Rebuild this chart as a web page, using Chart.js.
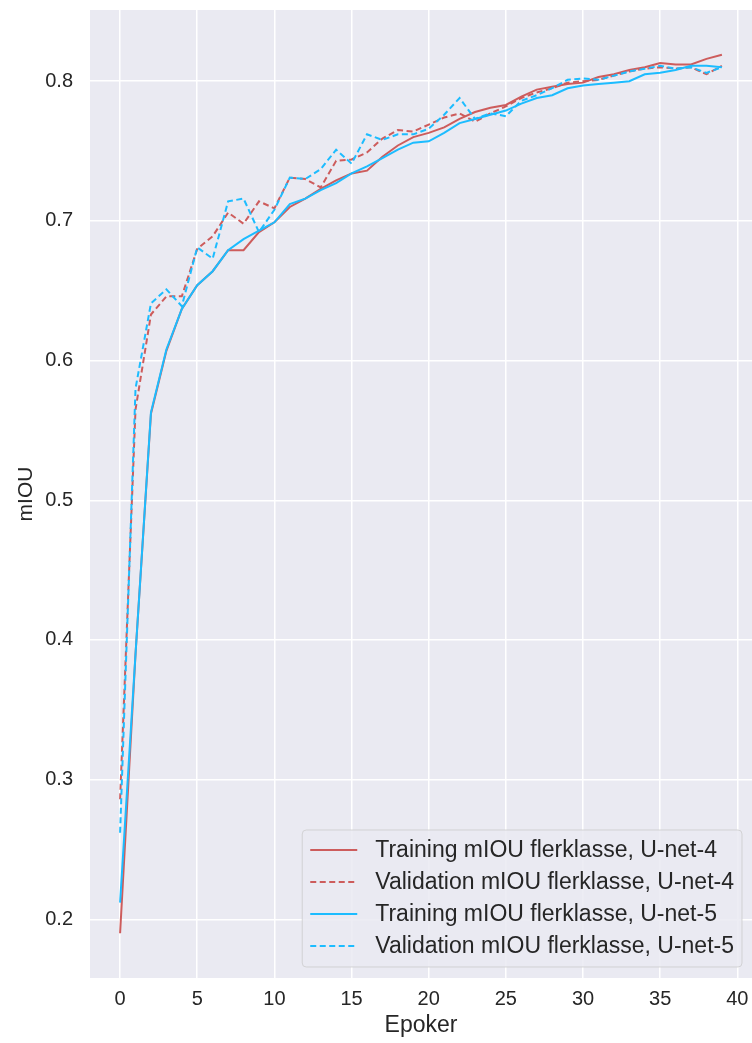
<!DOCTYPE html>
<html>
<head>
<meta charset="utf-8">
<script src="https://cdn.jsdelivr.net/npm/chart.js@4"></script>
<style>
  html, body { margin: 0; padding: 0; background: #fff; }
  #wrap { width: 752px; height: 1043px; }
</style>
</head>
<body>
<div id="wrap"><canvas id="grafMiou"></canvas></div>
<script>
const epoker = [0,1,2,3,4,5,6,7,8,9,10,11,12,13,14,15,16,17,18,19,
                20,21,22,23,24,25,26,27,28,29,30,31,32,33,34,35,36,37,38,39];

const trainU4 = [0.190,0.390,0.562,0.607,0.637,0.654,0.664,0.679,0.679,0.692,
                 0.699,0.710,0.716,0.723,0.729,0.734,0.736,0.746,0.754,0.760,
                 0.763,0.767,0.773,0.778,0.781,0.783,0.789,0.794,0.796,0.798,
                 0.799,0.803,0.805,0.808,0.810,0.813,0.812,0.812,0.816,0.819];
const valU4   = [0.286,0.565,0.633,0.646,0.646,0.680,0.689,0.706,0.698,0.714,
                 0.709,0.731,0.730,0.724,0.743,0.744,0.749,0.759,0.765,0.764,
                 0.769,0.774,0.777,0.771,0.777,0.782,0.788,0.792,0.795,0.799,
                 0.800,0.801,0.804,0.807,0.809,0.810,0.809,0.810,0.805,0.811];
const trainU5 = [0.212,0.390,0.563,0.608,0.637,0.654,0.664,0.679,0.687,0.693,
                 0.699,0.712,0.716,0.722,0.727,0.734,0.739,0.745,0.751,0.756,
                 0.757,0.763,0.770,0.773,0.776,0.779,0.784,0.788,0.790,0.795,
                 0.797,0.798,0.799,0.800,0.805,0.806,0.808,0.811,0.811,0.810];
const valU5   = [0.262,0.580,0.641,0.651,0.639,0.681,0.673,0.714,0.716,0.692,
                 0.708,0.731,0.730,0.737,0.751,0.741,0.762,0.758,0.762,0.762,
                 0.766,0.776,0.788,0.773,0.777,0.775,0.786,0.790,0.795,0.801,
                 0.802,0.801,0.804,0.807,0.809,0.811,0.809,0.810,0.806,0.810];

const xTicks = [0,5,10,15,20,25,30,35,40];
const yTicks = [0.2,0.3,0.4,0.5,0.6,0.7,0.8];

const rod = '#cd5c5c';
const bla = '#1cbcff';
const tekst = '#262626';
const fontFam = '"Liberation Sans", Arial, sans-serif';

const punkter = (arr) => arr.map((v, i) => ({ x: epoker[i], y: v }));

// grey seaborn-like background behind the plot area
const bakgrunn = {
  id: 'bakgrunn',
  beforeDraw(chart) {
    const { ctx, chartArea: a } = chart;
    ctx.save();
    ctx.fillStyle = '#eaeaf2';
    ctx.fillRect(a.left, a.top, a.right - a.left, a.bottom - a.top);
    ctx.restore();
  }
};

// legend inside the plot, lower right
const legende = {
  id: 'legende',
  afterDraw(chart) {
    const { ctx, chartArea: a } = chart;
    const ds = chart.data.datasets;
    ctx.save();
    ctx.font = '23px ' + fontFam;
    let maxW = 0;
    ds.forEach(d => { maxW = Math.max(maxW, ctx.measureText(d.label).width); });
    const rad = 32, linje = 47, gap = 18, pad = 8;
    const w = pad + linje + gap + maxW + pad;
    const h = rad * ds.length + 9;
    const x0 = a.right - 10 - w, y0 = a.bottom - 11 - h;
    ctx.beginPath();
    ctx.roundRect(x0, y0, w, h, 4);
    ctx.fillStyle = 'rgba(234,234,242,0.85)';
    ctx.fill();
    ctx.strokeStyle = 'rgba(204,204,204,0.8)';
    ctx.lineWidth = 1;
    ctx.stroke();
    ds.forEach((d, i) => {
      const y = y0 + 4 + rad * i + rad / 2;
      ctx.beginPath();
      ctx.setLineDash(d.borderDash || []);
      ctx.strokeStyle = d.borderColor;
      ctx.lineWidth = d.borderWidth;
      ctx.moveTo(x0 + pad, y);
      ctx.lineTo(x0 + pad + linje, y);
      ctx.stroke();
      ctx.setLineDash([]);
      ctx.fillStyle = tekst;
      ctx.textBaseline = 'middle';
      ctx.textAlign = 'left';
      ctx.fillText(d.label, x0 + pad + linje + gap, y + 1);
    });
    ctx.restore();
  }
};

new Chart(document.getElementById('grafMiou'), {
  type: 'line',
  data: {
    datasets: [
      { label: 'Training mIOU flerklasse, U-net-4', data: punkter(trainU4),
        borderColor: rod, borderWidth: 2, pointRadius: 0, fill: false, order: 4 },
      { label: 'Validation mIOU flerklasse, U-net-4', data: punkter(valU4),
        borderColor: rod, borderWidth: 2, borderDash: [6, 3.5], pointRadius: 0, fill: false, order: 3 },
      { label: 'Training mIOU flerklasse, U-net-5', data: punkter(trainU5),
        borderColor: bla, borderWidth: 2, pointRadius: 0, fill: false, order: 2 },
      { label: 'Validation mIOU flerklasse, U-net-5', data: punkter(valU5),
        borderColor: bla, borderWidth: 2, borderDash: [6, 3.5], pointRadius: 0, fill: false, order: 1 }
    ]
  },
  options: {
    responsive: true,
    maintainAspectRatio: false,
    animation: false,
    devicePixelRatio: 1,
    layout: { padding: { top: 10, right: 0, left: 0, bottom: 0 } },
    plugins: { legend: { display: false }, tooltip: { enabled: false } },
    scales: {
      x: {
        type: 'linear',
        min: -1.95,
        max: 40.95,
        afterBuildTicks: s => { s.ticks = xTicks.map(v => ({ value: v })); },
        afterFit: s => { s.height = 65; s.paddingLeft = 0; s.paddingRight = 0; },
        grid: { color: '#ffffff', lineWidth: 1.5, drawTicks: false },
        border: { display: false },
        ticks: { padding: 9, color: tekst, font: { family: fontFam, size: 20 } },
        title: { display: true, text: 'Epoker', color: tekst,
                 font: { family: fontFam, size: 23 }, padding: { top: 0, bottom: 4 } }
      },
      y: {
        min: 0.158,
        max: 0.851,
        afterBuildTicks: s => { s.ticks = yTicks.map(v => ({ value: v })); },
        afterFit: s => { s.width = 90; s.paddingTop = 0; s.paddingBottom = 0; },
        grid: { color: '#ffffff', lineWidth: 1.5, drawTicks: false },
        border: { display: false },
        ticks: { padding: 17, color: tekst, font: { family: fontFam, size: 20 },
                 callback: v => v.toFixed(1) },
        title: { display: true, text: 'mIOU', color: tekst,
                 font: { family: fontFam, size: 21 }, padding: { top: 14, bottom: 0 } }
      }
    }
  },
  plugins: [bakgrunn, legende]
});
</script>
</body>
</html>
